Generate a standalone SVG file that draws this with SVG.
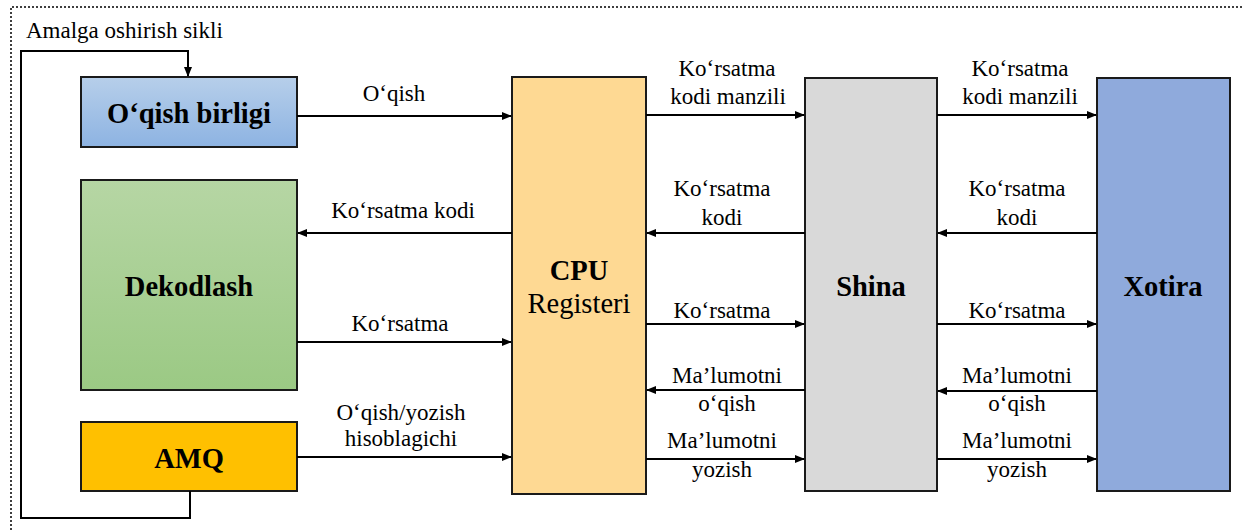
<svg xmlns="http://www.w3.org/2000/svg" width="1244" height="530" viewBox="0 0 1244 530">
<defs>
<linearGradient id="gBlue" x1="0" y1="0" x2="0" y2="1"><stop offset="0" stop-color="#b7cfea"/><stop offset="1" stop-color="#8db3e2"/></linearGradient>
<linearGradient id="gGreen" x1="0" y1="0" x2="0" y2="1"><stop offset="0" stop-color="#b6d6a4"/><stop offset="1" stop-color="#9bc984"/></linearGradient>
<marker id="ah" markerWidth="10" markerHeight="8" refX="9" refY="4" orient="auto" markerUnits="userSpaceOnUse"><path d="M0,0 L10,4 L0,8 Z" fill="#000"/></marker>
<style>
.box{stroke:#1a1a1a;stroke-width:2}
text{fill:#000;text-anchor:middle}
.t{font-size:28.5px;font-weight:bold}
.r{font-size:28.5px}
.l{font-size:23px}
.c{fill:none;stroke:#000;stroke-width:2}
</style>
</defs>
<rect width="1244" height="530" fill="#fff"/>
<path d="M11,530 V7 H1244" fill="none" stroke="#000" stroke-width="1.5" stroke-dasharray="2,2"/>
<g font-family="Liberation Serif, Times New Roman, serif">
<text x="26" y="38" class="l" style="text-anchor:start">Amalga oshirish sikli</text>

<g id="oqish"><rect class="box" x="81" y="77" width="216" height="70" fill="url(#gBlue)"/><text class="t" x="189" y="123">O‘qish birligi</text></g>
<g id="dekodlash"><rect class="box" x="81" y="180" width="216" height="210" fill="url(#gGreen)"/><text class="t" x="189" y="296">Dekodlash</text></g>
<g id="amq"><rect class="box" x="81" y="422" width="216" height="69" fill="#ffc000"/><text class="t" x="189" y="468">AMQ</text></g>
<g id="cpu"><rect class="box" x="512" y="77" width="134" height="417" fill="#fed993"/><text class="t" x="579" y="280">CPU</text><text class="r" x="579" y="313">Registeri</text></g>
<g id="shina"><rect class="box" x="805" y="78" width="132" height="413" fill="#d9d9d9"/><text class="t" x="871" y="296">Shina</text></g>
<g id="xotira"><rect class="box" x="1097" y="78" width="133" height="413" fill="#8faadc"/><text class="t" x="1163" y="296">Xotira</text></g>

<g id="connectors">
<path class="c" d="M190,491 V518 H21 V51 H188 V76" marker-end="url(#ah)"/>
<path class="c" d="M297,116 H511" marker-end="url(#ah)"/>
<path class="c" d="M512,233 H298" marker-end="url(#ah)"/>
<path class="c" d="M297,342 H511" marker-end="url(#ah)"/>
<path class="c" d="M297,457 H511" marker-end="url(#ah)"/>

<path class="c" d="M646,115 H804" marker-end="url(#ah)"/>
<path class="c" d="M805,233 H647" marker-end="url(#ah)"/>
<path class="c" d="M646,324 H804" marker-end="url(#ah)"/>
<path class="c" d="M805,390 H647" marker-end="url(#ah)"/>
<path class="c" d="M646,459 H804" marker-end="url(#ah)"/>

<path class="c" d="M937,115 H1096" marker-end="url(#ah)"/>
<path class="c" d="M1097,233 H938" marker-end="url(#ah)"/>
<path class="c" d="M937,324 H1096" marker-end="url(#ah)"/>
<path class="c" d="M1097,391 H938" marker-end="url(#ah)"/>
<path class="c" d="M937,459 H1096" marker-end="url(#ah)"/>
</g>

<g id="labels">
<text class="l" x="394" y="101">O‘qish</text>
<text class="l" x="403" y="218">Ko‘rsatma kodi</text>
<text class="l" x="400" y="331">Ko‘rsatma</text>
<text class="l" x="401" y="420">O‘qish/yozish</text>
<text class="l" x="401" y="446">hisoblagichi</text>

<text class="l" x="727" y="76">Ko‘rsatma</text>
<text class="l" x="728" y="104">kodi manzili</text>
<text class="l" x="722" y="196">Ko‘rsatma</text>
<text class="l" x="722" y="225">kodi</text>
<text class="l" x="722" y="318">Ko‘rsatma</text>
<text class="l" x="727" y="383">Ma’lumotni</text>
<text class="l" x="727" y="411">o‘qish</text>
<text class="l" x="722" y="448">Ma’lumotni</text>
<text class="l" x="722" y="477">yozish</text>

<text class="l" x="1020" y="76">Ko‘rsatma</text>
<text class="l" x="1020" y="104">kodi manzili</text>
<text class="l" x="1017" y="196">Ko‘rsatma</text>
<text class="l" x="1017" y="225">kodi</text>
<text class="l" x="1017" y="318">Ko‘rsatma</text>
<text class="l" x="1017" y="383">Ma’lumotni</text>
<text class="l" x="1017" y="411">o‘qish</text>
<text class="l" x="1017" y="448">Ma’lumotni</text>
<text class="l" x="1017" y="477">yozish</text>
</g>
</g>
</svg>
